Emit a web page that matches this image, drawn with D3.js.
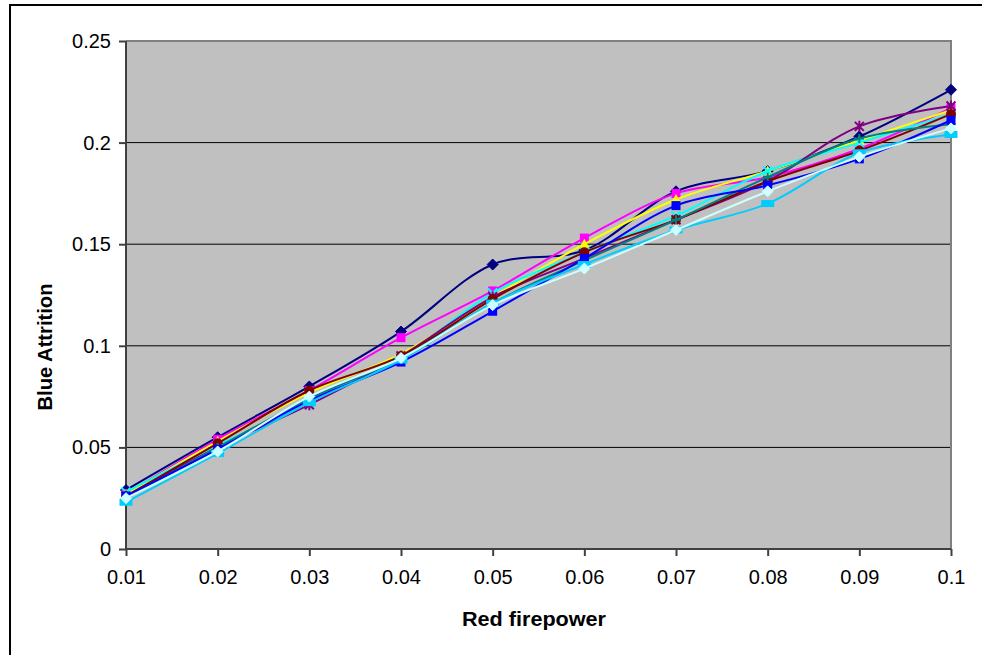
<!DOCTYPE html>
<html>
<head>
<meta charset="utf-8">
<script src="https://cdn.jsdelivr.net/npm/d3@7"></script>
<style>
  html, body { margin: 0; padding: 0; background: #fff; }
  svg { display: block; }
  text { font-family: Arial, "Liberation Sans", sans-serif; fill: #000; }
</style>
</head>
<body>
<svg id="chart" width="982" height="655"></svg>
<script>
// Red firepower levels (x categories)
const firepower = [0.01, 0.02, 0.03, 0.04, 0.05, 0.06, 0.07, 0.08, 0.09, 0.1];
const xTickLabels = ["0.01", "0.02", "0.03", "0.04", "0.05", "0.06", "0.07", "0.08", "0.09", "0.1"];
const yTicks = [0, 0.05, 0.1, 0.15, 0.2, 0.25];
const yTickLabels = ["0", "0.05", "0.1", "0.15", "0.2", "0.25"];

// Blue attrition for each run
const run1  = [0.029, 0.055, 0.080, 0.107, 0.140, 0.147, 0.176, 0.186, 0.203, 0.226];
const run2  = [0.027, 0.054, 0.078, 0.104, 0.127, 0.153, 0.175, 0.183, 0.197, 0.217];
const run3  = [0.027, 0.053, 0.077, 0.096, 0.124, 0.150, 0.172, 0.186, 0.201, 0.216];
const run4  = [0.028, 0.051, 0.072, 0.094, 0.126, 0.146, 0.164, 0.186, 0.200, 0.214];
const run5  = [0.026, 0.050, 0.071, 0.095, 0.124, 0.143, 0.162, 0.181, 0.208, 0.218];
const run6  = [0.026, 0.052, 0.078, 0.095, 0.123, 0.146, 0.162, 0.181, 0.196, 0.214];
const run7  = [0.025, 0.050, 0.074, 0.094, 0.121, 0.142, 0.162, 0.183, 0.202, 0.209];
const run8  = [0.026, 0.049, 0.073, 0.092, 0.117, 0.143, 0.169, 0.179, 0.192, 0.211];
const run9  = [0.023, 0.047, 0.072, 0.093, 0.121, 0.140, 0.157, 0.170, 0.195, 0.204];
const run10 = [0.025, 0.048, 0.075, 0.094, 0.120, 0.138, 0.157, 0.176, 0.193, 0.207];

const runs = [run1, run2, run3, run4, run5, run6, run7, run8, run9, run10];
const colors = ["#000080", "#FF00FF", "#FFFF00", "#00FFFF", "#800080",
                "#800000", "#008080", "#0000FF", "#00CCFF", "#CCFFFF"];
const markers = ["diamond", "square", "triangle", "x", "star",
                 "circle", "plus", "square", "bar", "diamond"];

const svg = d3.select("#chart");

// Outer chart frame
svg.append("rect").attr("x", 10).attr("y", 5).attr("width", 990).attr("height", 670)
  .attr("fill", "#fff").attr("stroke", "#000").attr("stroke-width", 2);

const plot = { left: 126, top: 41, right: 951, bottom: 549 };

const x = d3.scalePoint().domain(firepower).range([plot.left, plot.right]);
const y = d3.scaleLinear().domain([0, 0.25]).range([plot.bottom, plot.top]);

// Plot area
svg.append("rect")
  .attr("x", plot.left).attr("y", plot.top)
  .attr("width", plot.right - plot.left).attr("height", plot.bottom - plot.top)
  .attr("fill", "#C0C0C0");

// Horizontal gridlines
svg.append("g").selectAll("line").data(yTicks.slice(1, -1)).join("line")
  .attr("x1", plot.left).attr("x2", plot.right)
  .attr("y1", d => y(d)).attr("y2", d => y(d))
  .attr("stroke", "#000").attr("stroke-width", 1);

// Plot border (top and right)
svg.append("path")
  .attr("d", `M${plot.left},${plot.top}H${plot.right}V${plot.bottom}`)
  .attr("fill", "none").attr("stroke", "#808080").attr("stroke-width", 2);

// Axes
const yAxis = d3.axisLeft(y).tickValues(yTicks)
  .tickFormat((d, i) => yTickLabels[i]).tickSize(7).tickPadding(8);
const xAxis = d3.axisBottom(x).tickFormat((d, i) => xTickLabels[i])
  .tickSize(7).tickPadding(14);

const gy = svg.append("g").attr("transform", `translate(${plot.left},0)`).call(yAxis);
const gx = svg.append("g").attr("transform", `translate(0,${plot.bottom})`).call(xAxis);
[gx, gy].forEach(g => {
  g.select(".domain").attr("stroke", "#404040").attr("stroke-width", 2);
  g.selectAll(".tick line").attr("stroke", "#404040").attr("stroke-width", 2);
  g.selectAll(".tick text").attr("font-size", 20)
    .attr("font-family", "Arial, 'Liberation Sans', sans-serif").attr("fill", "#000");
});
gx.select(".domain").attr("d", `M${plot.left},0H${plot.right}`);
gy.select(".domain").attr("d", `M0,${plot.top}V${plot.bottom}`);

// Axis titles
svg.append("text")
  .attr("x", 534).attr("y", 626)
  .attr("text-anchor", "middle").attr("font-size", 20).attr("font-weight", "bold")
  .attr("textLength", 144).attr("lengthAdjust", "spacingAndGlyphs")
  .text("Red firepower");
svg.append("text")
  .attr("transform", "translate(52,347) rotate(-90)")
  .attr("text-anchor", "middle").attr("font-size", 20).attr("font-weight", "bold")
  .attr("textLength", 127).attr("lengthAdjust", "spacingAndGlyphs")
  .text("Blue Attrition");

// Series lines (smoothed)
const line = d3.line()
  .x((d, i) => x(firepower[i]))
  .y(d => y(d))
  .curve(d3.curveCatmullRom.alpha(0.5));

function drawMarker(g, kind, color, cx, cy) {
  const s = 4.5;
  switch (kind) {
    case "diamond":
      g.append("path").attr("d", `M${cx},${cy - s - 1}L${cx + s + 1},${cy}L${cx},${cy + s + 1}L${cx - s - 1},${cy}Z`)
        .attr("fill", color).attr("stroke", color).attr("stroke-width", 1);
      break;
    case "square":
      g.append("rect").attr("x", cx - s).attr("y", cy - s).attr("width", 2 * s).attr("height", 2 * s)
        .attr("fill", color);
      break;
    case "bar":
      g.append("rect").attr("x", cx - 6.5).attr("y", cy - 3.5).attr("width", 13).attr("height", 7)
        .attr("fill", color);
      break;
    case "triangle":
      g.append("path").attr("d", `M${cx},${cy - s - 1}L${cx + s + 1},${cy + s}L${cx - s - 1},${cy + s}Z`)
        .attr("fill", color);
      break;
    case "circle":
      g.append("circle").attr("cx", cx).attr("cy", cy).attr("r", s + 0.5).attr("fill", color);
      break;
    case "x":
      g.append("path").attr("d", `M${cx - s},${cy - s}L${cx + s},${cy + s}M${cx - s},${cy + s}L${cx + s},${cy - s}`)
        .attr("stroke", color).attr("stroke-width", 2);
      break;
    case "star":
      g.append("path").attr("d",
        `M${cx - s},${cy - s}L${cx + s},${cy + s}M${cx - s},${cy + s}L${cx + s},${cy - s}M${cx},${cy - s - 1}V${cy + s + 1}`)
        .attr("stroke", color).attr("stroke-width", 2);
      break;
    case "plus":
      g.append("path").attr("d", `M${cx - s},${cy}H${cx + s}M${cx},${cy - s}V${cy + s}`)
        .attr("stroke", color).attr("stroke-width", 2);
      break;
  }
}

const seriesG = svg.append("g");
runs.forEach((vals, k) => {
  const g = seriesG.append("g");
  g.append("path").datum(vals).attr("d", line)
    .attr("fill", "none").attr("stroke", colors[k]).attr("stroke-width", 2);
  vals.forEach((v, i) => drawMarker(g, markers[k], colors[k], x(firepower[i]), y(v)));
});
</script>
</body>
</html>
